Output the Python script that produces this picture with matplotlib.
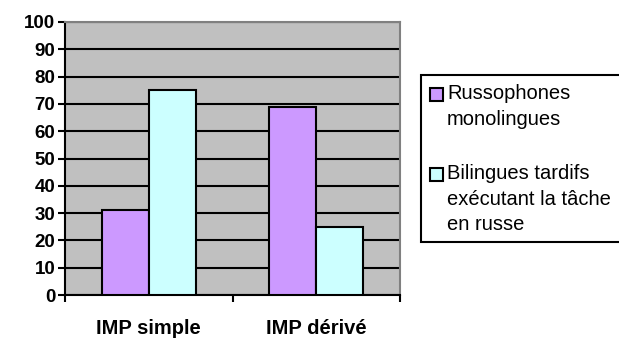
import numpy as np
import matplotlib
matplotlib.use("Agg")
import matplotlib.pyplot as plt
from matplotlib.patches import Rectangle

plt.rcParams['font.family'] = ['Liberation Sans', 'DejaVu Sans']

categories = ["IMP simple", "IMP dérivé"]
series_names = ["Russophones\nmonolingues",
                "Bilingues tardifs\nexécutant la tâche\nen russe"]
russophones = [31, 69]
bilingues = [75, 25]
colors = ["#CC99FF", "#CCFFFF"]
yticks = list(range(0, 101, 10))

fig = plt.figure(figsize=(6.19, 3.38), dpi=100)
ax = fig.add_axes([65/619, 43/338, 335/619, 273/338])
ax.set_facecolor("#C0C0C0")

x = np.arange(len(categories))
w = 0.28
ax.bar(x - w/2, russophones, w, color=colors[0], edgecolor="black", linewidth=1.5, zorder=3)
ax.bar(x + w/2, bilingues, w, color=colors[1], edgecolor="black", linewidth=1.5, zorder=3)

ax.set_xlim(-0.5, 1.5)
ax.set_ylim(0, 100)
ax.set_yticks(yticks)
ax.set_yticklabels([str(v) for v in yticks], fontsize=13.5, fontweight="bold")
ax.yaxis.grid(True, color="black", linewidth=1.5, zorder=1)
ax.set_axisbelow(True)

ax.set_xticks(x)
ax.set_xticklabels(categories, fontsize=14.5, fontweight="bold")
ax.set_xticks([-0.5, 0.5, 1.5], minor=True)
ax.tick_params(axis="x", which="major", length=0, pad=17)
ax.tick_params(axis="x", which="minor", length=5, width=1.5, direction="out")
ax.tick_params(axis="y", length=5, width=1.5, direction="out", pad=2)

for s in ["left", "bottom"]:
    ax.spines[s].set_color("black")
    ax.spines[s].set_linewidth(1.5)
for s in ["top", "right"]:
    ax.spines[s].set_color("#808080")
    ax.spines[s].set_linewidth(1.5)

# legend box drawn by hand on the figure
W, H = 619, 338
fig.patches.append(Rectangle((421/W, (H-242)/H), 205/W, 167/H, transform=fig.transFigure,
                             facecolor="white", edgecolor="black", linewidth=1.5))
entries = [(88, series_names[0], colors[0]), (168, series_names[1], colors[1])]
for top, label, c in entries:
    fig.patches.append(Rectangle((430/W, (H-top-13)/H), 13/W, 13/H, transform=fig.transFigure,
                                 facecolor=c, edgecolor="black", linewidth=1.5))
    fig.text(447/W, (H-top+4)/H, label, fontsize=14.5, va="top", ha="left", linespacing=1.45)

fig.savefig("out.png", dpi=100)
